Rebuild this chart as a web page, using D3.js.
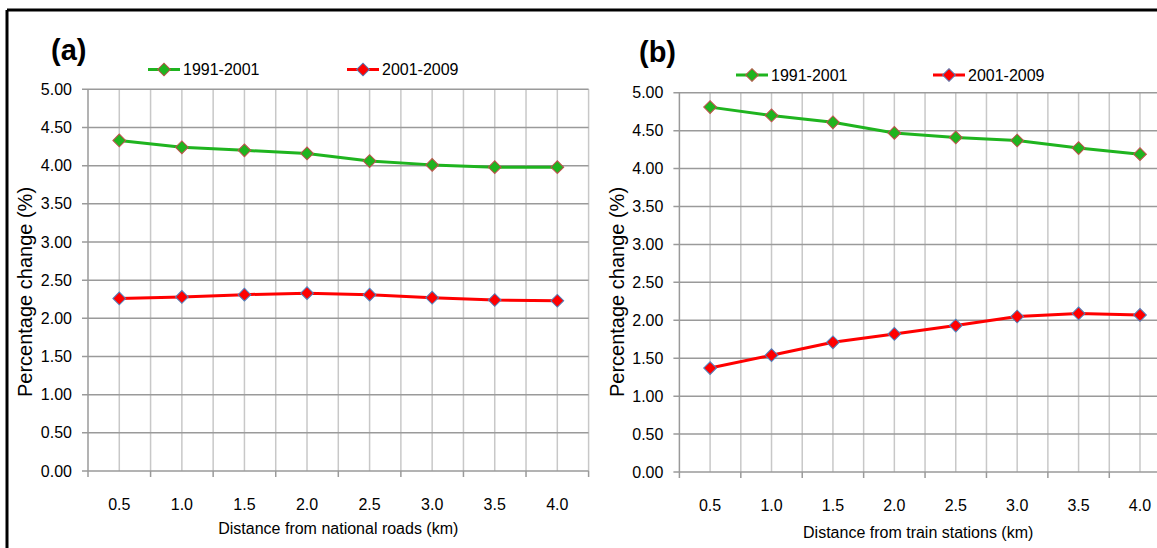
<!DOCTYPE html>
<html><head><meta charset="utf-8">
<script src="https://cdn.jsdelivr.net/npm/d3@7"></script>
<style>
html,body{margin:0;padding:0;background:#fff;}
svg{display:block;font-family:"Liberation Sans",Arial,sans-serif;}
</style></head>
<body>
<svg id="chart" width="1157" height="548"></svg>
<script>
const categories = ["0.5","1.0","1.5","2.0","2.5","3.0","3.5","4.0"];
const yTicks = [0,0.5,1,1.5,2,2.5,3,3.5,4,4.5,5];
const seriesNames = ["1991-2001","2001-2009"];
const roads1991 = [4.33,4.24,4.20,4.16,4.06,4.01,3.98,3.98];
const roads2001 = [2.26,2.28,2.31,2.33,2.31,2.27,2.24,2.23];
const train1991 = [4.81,4.70,4.61,4.47,4.41,4.37,4.27,4.19];
const train2001 = [1.37,1.54,1.71,1.82,1.93,2.05,2.09,2.07];

const svg = d3.select("#chart");
const lineColors = ["#1fb41f","#ff0000"];
const fillColors = ["#1fb41f","#ff0000"];
const strokeColors = ["#c0504d","#4f81bd"];

// outer frame
svg.append("line").attr("x1",7).attr("x2",1157).attr("y1",10).attr("y2",10).attr("stroke","#000").attr("stroke-width",3);
svg.append("line").attr("x1",7).attr("x2",7).attr("y1",10).attr("y2",548).attr("stroke","#000").attr("stroke-width",3);

const diamondPath = d3.symbol().type(d3.symbolSquare).size(82);

function panel(cfg){
  const g = svg.append("g");
  const x = d3.scaleBand().domain(categories).range([cfg.x0,cfg.x1]).padding(0);
  const y = d3.scaleLinear().domain([0,5]).range([cfg.y0,cfg.y1]);
  const bw = x.bandwidth();
  // vertical gridlines (band edges and centers)
  const vx = [];
  categories.forEach(c=>{vx.push(x(c)); vx.push(x(c)+bw/2);});
  vx.push(cfg.x1);
  g.selectAll(".vg").data(vx.slice(1)).enter().append("line")
    .attr("x1",d=>d).attr("x2",d=>d).attr("y1",y(0)).attr("y2",y(5))
    .attr("stroke","#c8c8c8").attr("stroke-width",1.5);
  // horizontal gridlines
  g.selectAll(".hg").data(yTicks).enter().append("line")
    .attr("x1",cfg.x0-6).attr("x2",cfg.x1).attr("y1",d=>y(d)).attr("y2",d=>y(d))
    .attr("stroke","#9a9a9a").attr("stroke-width",1.5);
  // y axis line
  g.append("line").attr("x1",cfg.x0).attr("x2",cfg.x0).attr("y1",y(0)).attr("y2",y(5))
    .attr("stroke","#9a9a9a").attr("stroke-width",1.5);
  // x ticks at band edges
  const xt = categories.map(c=>x(c)).concat([cfg.x1]);
  g.selectAll(".xt").data(xt).enter().append("line")
    .attr("x1",d=>d).attr("x2",d=>d).attr("y1",y(0)).attr("y2",y(0)+6)
    .attr("stroke","#9a9a9a").attr("stroke-width",1.5);
  // y tick labels
  g.selectAll(".yl").data(yTicks).enter().append("text")
    .attr("x",cfg.x0-16).attr("y",d=>y(d)).attr("dy","0.35em")
    .attr("text-anchor","end").attr("font-size",16).attr("fill","#000")
    .text(d=>d.toFixed(2));
  // x tick labels
  g.selectAll(".xl").data(categories).enter().append("text")
    .attr("x",d=>x(d)+bw/2).attr("y",cfg.xLabelY).attr("dy","0.35em")
    .attr("text-anchor","middle").attr("font-size",16).attr("fill","#000")
    .text(d=>d);
  // x title
  g.append("text").attr("x",(cfg.x0+Math.min(cfg.x1,1157))/2 + cfg.titleShift).attr("y",cfg.xTitleY).attr("dy","0.35em")
    .attr("text-anchor","middle").attr("font-size",16).text(cfg.xTitle);
  // y title
  g.append("text").attr("transform",`translate(${cfg.yTitleX},${cfg.yTitleCY}) rotate(-90)`)
    .attr("text-anchor","middle").attr("dy","0.35em").attr("font-size",20).text("Percentage change (%)");
  // panel label
  g.append("text").attr("x",cfg.labelX).attr("y",cfg.labelY).attr("font-size",29).attr("font-weight","bold").text(cfg.label);
  // series
  const line = d3.line().x((d,i)=>x(categories[i])+bw/2).y(d=>y(d));
  cfg.series.forEach((s,k)=>{
    g.append("path").datum(s).attr("d",line).attr("fill","none")
      .attr("stroke",lineColors[k]).attr("stroke-width",3).attr("stroke-linejoin","round");
  });
  cfg.series.forEach((s,k)=>{
    g.selectAll(".m"+k).data(s).enter().append("path")
      .attr("d",diamondPath)
      .attr("transform",(d,i)=>`translate(${x(categories[i])+bw/2},${y(d)}) rotate(45)`)
      .attr("fill",fillColors[k]).attr("stroke",strokeColors[k]).attr("stroke-width",1);
  });
  // legend
  cfg.legend.forEach((L,k)=>{
    g.append("line").attr("x1",L.x).attr("x2",L.x+32).attr("y1",cfg.legendY).attr("y2",cfg.legendY)
      .attr("stroke",lineColors[k]).attr("stroke-width",3);
    g.append("path").attr("d",diamondPath)
      .attr("transform",`translate(${L.x+16},${cfg.legendY}) rotate(45)`)
      .attr("fill",fillColors[k]).attr("stroke",strokeColors[k]).attr("stroke-width",1);
    g.append("text").attr("x",L.x+35).attr("y",cfg.legendY).attr("dy","0.35em")
      .attr("font-size",16).text(seriesNames[k]);
  });
}

panel({x0:88,x1:588.6,y0:471,y1:89.3,xLabelY:504,xTitleY:528,titleShift:0,
  xTitle:"Distance from national roads (km)",yTitleX:25,yTitleCY:292,
  label:"(a)",labelX:51,labelY:60,legendY:69.5,
  legend:[{x:148},{x:347}],series:[roads1991,roads2001]});
panel({x0:679.4,x1:1170.7,y0:472,y1:92.7,xLabelY:505,xTitleY:532,titleShift:0,
  xTitle:"Distance from train stations (km)",yTitleX:617,yTitleCY:292,
  label:"(b)",labelX:639,labelY:62,legendY:75,
  legend:[{x:736},{x:933}],series:[train1991,train2001]});
</script>
</body></html>
